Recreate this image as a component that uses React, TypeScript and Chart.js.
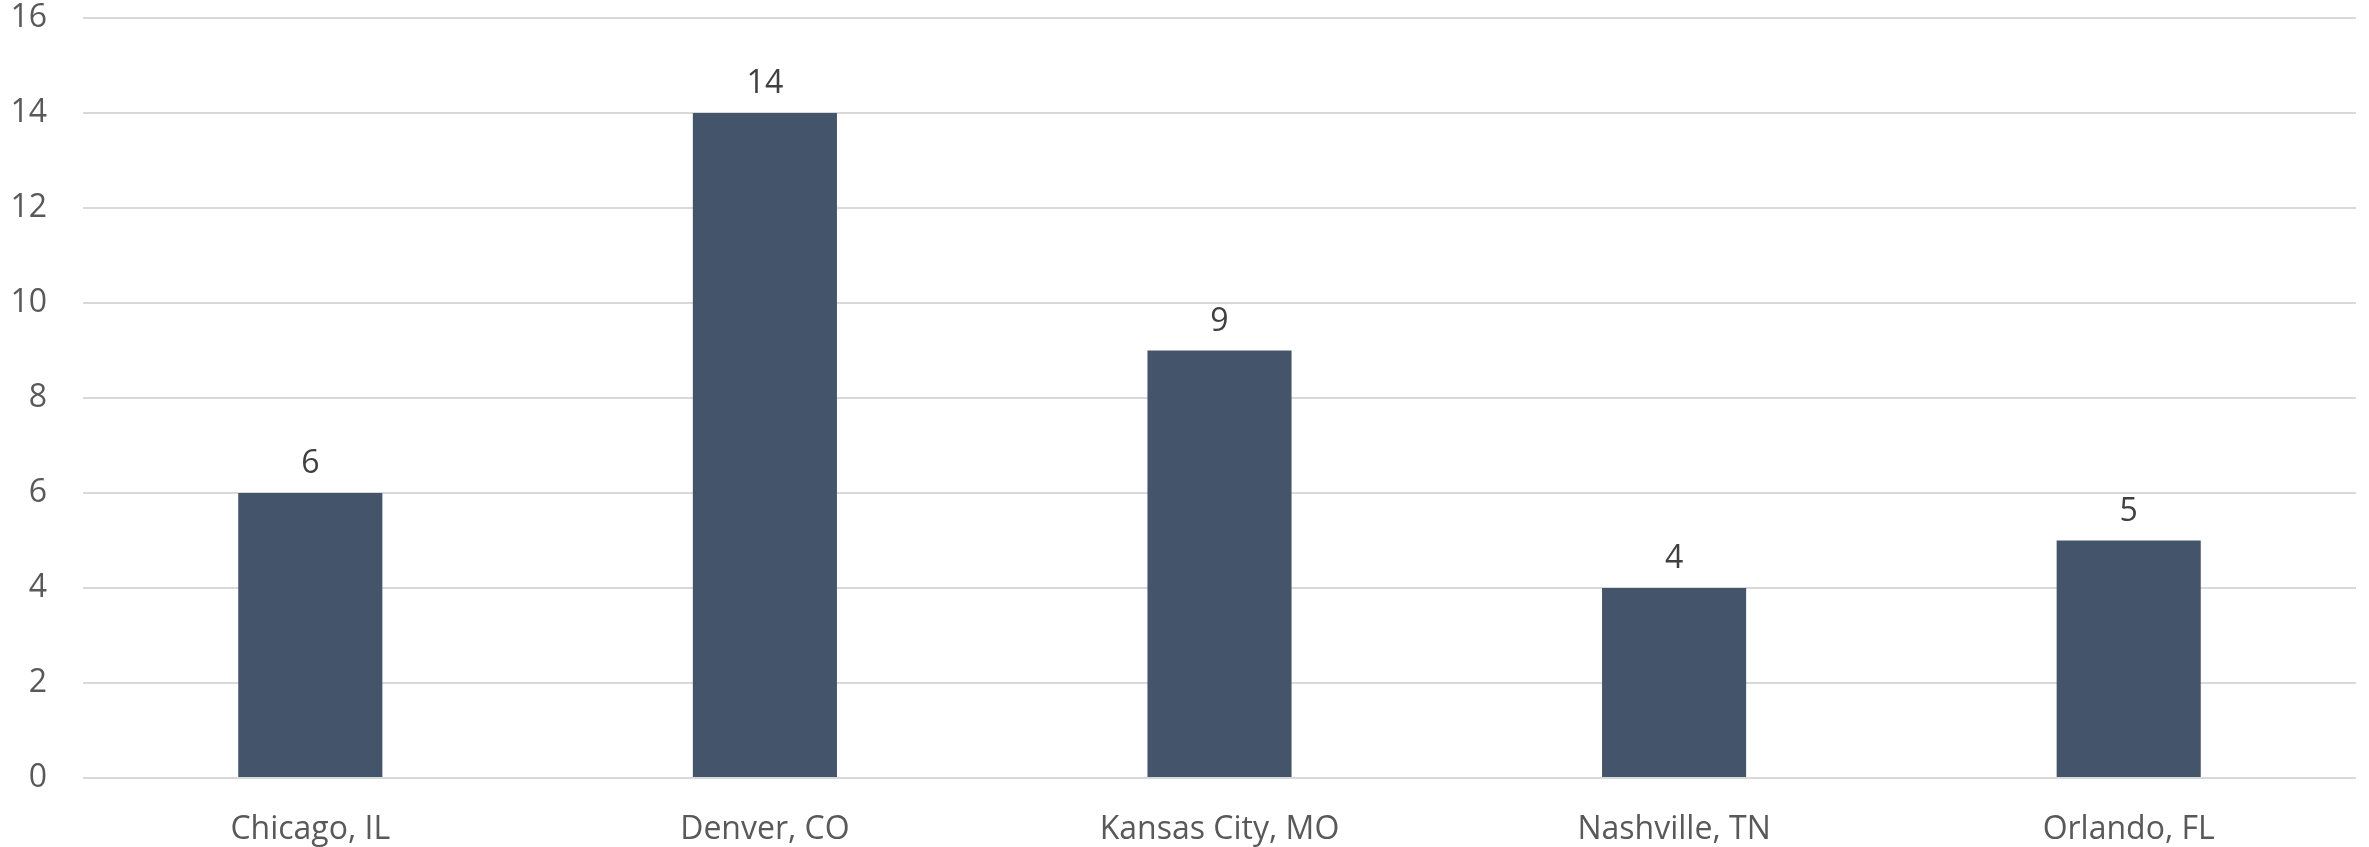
import React, { useEffect, useRef } from "react";
import { Chart, registerables } from "chart.js";

Chart.register(...registerables);

const categories = ["Chicago, IL", "Denver, CO", "Kansas City, MO", "Nashville, TN", "Orlando, FL"];
const values = [6, 14, 9, 4, 5];
const yTicks = [0, 2, 4, 6, 8, 10, 12, 14, 16];

const FONT = "'Open Sans', 'DejaVu Sans', sans-serif";

const dataLabels = {
  id: "dataLabels",
  afterDatasetsDraw(chart: any) {
    const ctx = chart.ctx;
    const meta = chart.getDatasetMeta(0);
    ctx.save();
    ctx.font = `32px ${FONT}`;
    ctx.fillStyle = "#404040";
    ctx.textAlign = "center";
    ctx.textBaseline = "alphabetic";
    meta.data.forEach((bar: any, i: number) => {
      ctx.fillText(String(values[i]), bar.x, bar.y - 20);
    });
    ctx.restore();
  },
};

export default function App() {
  const ref = useRef<HTMLCanvasElement | null>(null);
  useEffect(() => {
    if (!ref.current) return;
    const chart = new Chart(ref.current, {
      type: "bar",
      data: {
        labels: categories,
        datasets: [
          {
            data: values,
            backgroundColor: "#44546A",
            categoryPercentage: 1,
            barPercentage: 0.317,
          },
        ],
      },
      options: {
        animation: false,
        responsive: false,
        maintainAspectRatio: false,
        layout: { padding: { top: 18, right: 13, left: 0, bottom: 0 } },
        plugins: { legend: { display: false }, tooltip: { enabled: false } },
        scales: {
          x: {
            grid: { display: false, drawTicks: false },
            border: { display: false },
            ticks: {
              color: "#595959",
              font: { family: FONT, size: 32 },
              padding: 33,
              maxRotation: 0,
              autoSkip: false,
            },
            afterFit(scale: any) {
              scale.height = 69;
              scale.paddingLeft = 0;
              scale.paddingRight = 0;
            },
          },
          y: {
            min: 0,
            max: 16,
            afterBuildTicks(scale: any) {
              scale.ticks = yTicks.map((v) => ({ value: v }));
            },
            grid: { color: "#D9D9D9", lineWidth: 2, drawTicks: false },
            border: { display: false },
            ticks: {
              color: "#595959",
              font: { family: FONT, size: 32, lineHeight: 1.1 },
              padding: 36,
            },
            afterFit(scale: any) {
              scale.width = 83;
              scale.paddingTop = 0;
              scale.paddingBottom = 0;
            },
          },
        },
      },
      plugins: [dataLabels],
    });
    return () => chart.destroy();
  }, []);
  return (
    <div style={{ position: "absolute", left: 0, top: 0, width: 2369, height: 847, background: "#fff" }}>
      <canvas ref={ref} width={2369} height={847} style={{ width: 2369, height: 847 }} />
    </div>
  );
}
